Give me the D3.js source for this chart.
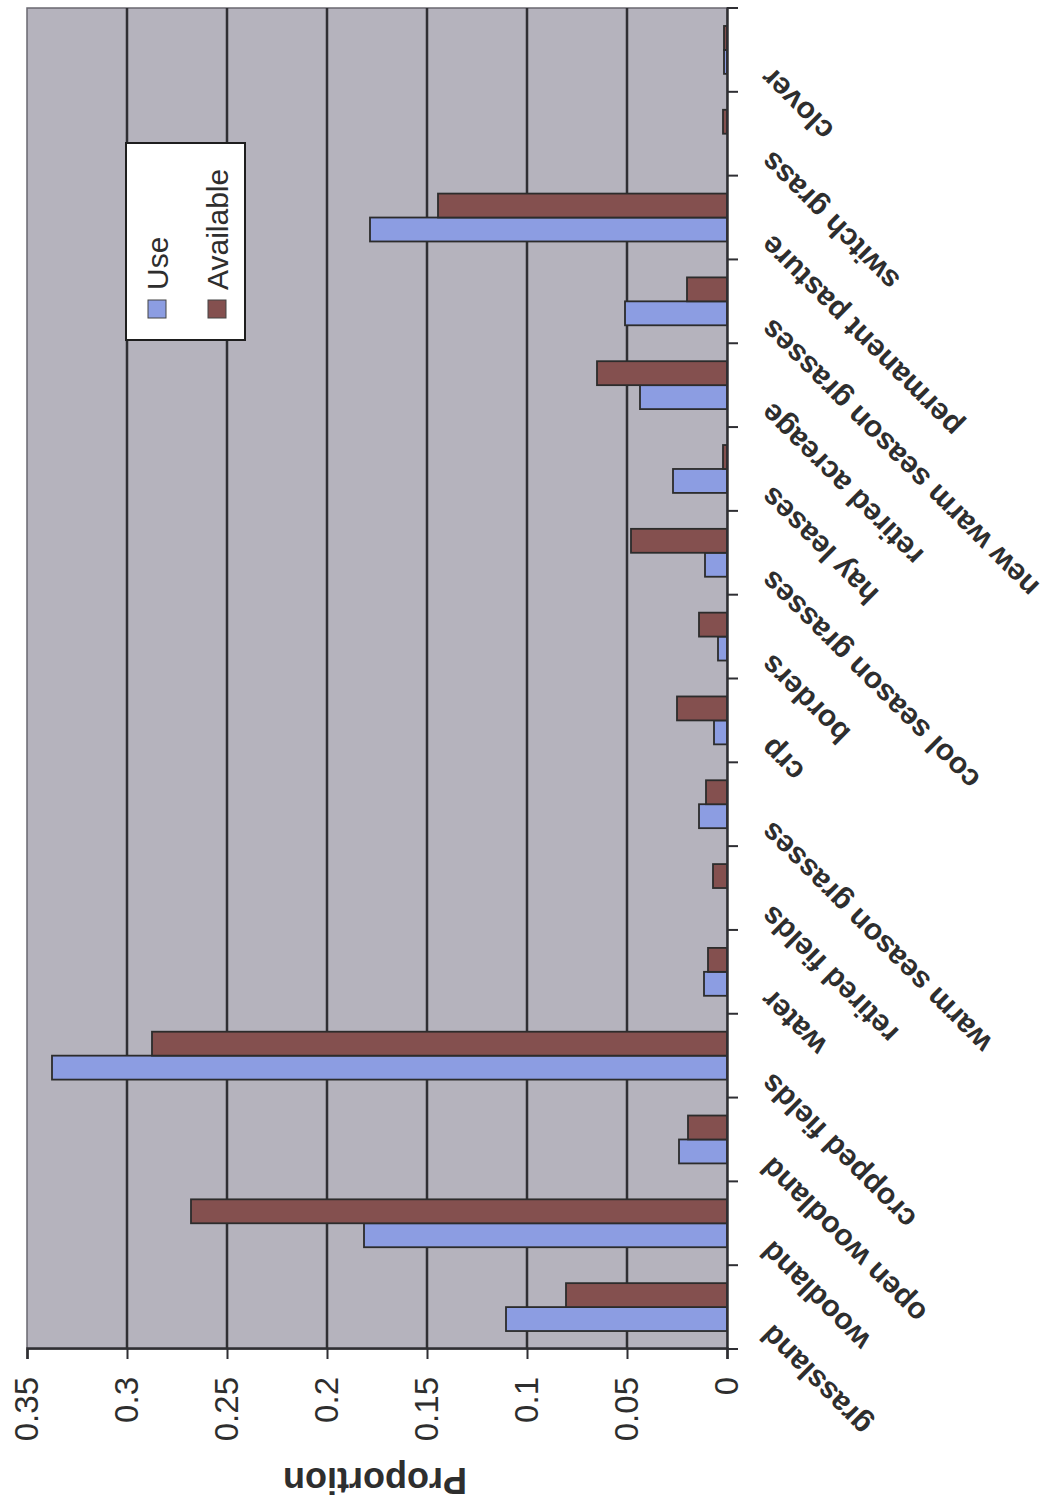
<!DOCTYPE html>
<html>
<head>
<meta charset="utf-8">
<script src="https://cdn.jsdelivr.net/npm/d3@7"></script>
<style>
  html, body { margin: 0; padding: 0; background: #fff; }
  svg { display: block; }
  text { font-family: "Liberation Sans", Arial, Helvetica, sans-serif; fill: #2e2e2e; }
</style>
</head>
<body>
<svg id="chart" width="1048" height="1512"></svg>
<script>
// Habitat categories (left to right along the category axis)
const categories = [
  "grassland", "woodland", "open woodland", "cropped fields", "water",
  "retired fields", "warm season grasses", "crp", "borders",
  "cool season grasses", "hay leases", "retired acreage",
  "new warm season grasses", "permanent pasture", "switch grass", "clover"
];
// Proportion of use
const useValues = [
  0.1105, 0.1815, 0.024, 0.3375, 0.0115,
  0.0, 0.014, 0.0065, 0.0045,
  0.011, 0.027, 0.0435,
  0.051, 0.1785, 0.0, 0.0015
];
// Proportion available
const availableValues = [
  0.0805, 0.268, 0.0195, 0.2875, 0.0095,
  0.007, 0.0105, 0.025, 0.014,
  0.048, 0.002, 0.065,
  0.02, 0.1445, 0.002, 0.0015
];
const seriesNames = ["Use", "Available"];
const seriesColors = ["#8c9de2", "#84504f"];
const valueTicks = [0, 0.05, 0.1, 0.15, 0.2, 0.25, 0.3, 0.35];
const valueTickLabels = ["0", "0.05", "0.1", "0.15", "0.2", "0.25", "0.3", "0.35"];
const yTitle = "Proportion";

const svg = d3.select("#chart");
const W = 1048, H = 1512;
svg.append("rect").attr("width", W).attr("height", H).attr("fill", "#fff");

// The chart is laid out as an ordinary column chart, then turned a quarter
// turn counter-clockwise onto the page.
const g = svg.append("g").attr("transform", `translate(0,${H}) rotate(-90)`);

const plot = { left: 163, right: 1504, top: 27, bottom: 727 };

const x0 = d3.scaleBand()
  .domain(categories)
  .range([plot.left, plot.right])
  .paddingInner(0).paddingOuter(0);

const x1 = d3.scaleBand()
  .domain(seriesNames)
  .range([0, x0.bandwidth()])
  .paddingInner(0).paddingOuter(0.75);

const y = d3.scaleLinear().domain([0, 0.35]).range([plot.bottom, plot.top]);

// Plot background
g.append("rect")
  .attr("x", plot.left).attr("y", plot.top)
  .attr("width", plot.right - plot.left).attr("height", plot.bottom - plot.top)
  .attr("fill", "#b5b3bd").attr("stroke", "#6a6870").attr("stroke-width", 1.5);

// Horizontal gridlines
g.append("g")
  .selectAll("line")
  .data(valueTicks.filter(v => v > 0 && v < 0.35))
  .join("line")
  .attr("x1", plot.left).attr("x2", plot.right)
  .attr("y1", d => y(d)).attr("y2", d => y(d))
  .attr("stroke", "#2f2f33").attr("stroke-width", 2.5);

// Bars
const rows = categories.map((c, i) => ({ cat: c, vals: [useValues[i], availableValues[i]] }));
const groups = g.append("g").selectAll("g")
  .data(rows)
  .join("g")
  .attr("transform", d => `translate(${x0(d.cat)},0)`);

groups.selectAll("rect")
  .data(d => d.vals.map((v, k) => ({ v, s: seriesNames[k], k })))
  .join("rect")
  .attr("x", d => x1(d.s))
  .attr("width", x1.bandwidth())
  .attr("y", d => y(d.v))
  .attr("height", d => y(0) - y(d.v))
  .attr("fill", d => seriesColors[d.k])
  .attr("stroke", d => d.v > 0 ? "#2c2c2c" : "none")
  .attr("stroke-width", 1.8);

// Value axis (left in layout)
const yAxis = d3.axisLeft(y)
  .tickValues(valueTicks)
  .tickFormat((d, i) => valueTickLabels[i])
  .tickSize(10).tickPadding(18);
const ya = g.append("g").attr("transform", `translate(${plot.left},0)`).call(yAxis);
ya.select(".domain").attr("stroke", "#2f2f33").attr("stroke-width", 2.5);
ya.selectAll(".tick line").attr("stroke", "#2f2f33").attr("stroke-width", 2);
ya.selectAll(".tick text")
  .attr("font-size", 33).attr("fill", "#333")
  .style("font-family", '"Liberation Sans", Arial, sans-serif');

// Category axis (bottom in layout)
const xAxis = d3.axisBottom(x0).tickSize(0).tickFormat("");
const xa = g.append("g").attr("transform", `translate(0,${plot.bottom})`).call(xAxis);
xa.select(".domain").attr("stroke", "#2f2f33").attr("stroke-width", 2.5);
// tick marks sit on the category boundaries
xa.append("g").selectAll("line")
  .data(d3.range(categories.length + 1))
  .join("line")
  .attr("x1", i => plot.left + i * x0.step())
  .attr("x2", i => plot.left + i * x0.step())
  .attr("y1", 0).attr("y2", 11)
  .attr("stroke", "#2f2f33").attr("stroke-width", 2);

// Slanted category labels
g.append("g").selectAll("text")
  .data(categories)
  .join("text")
  .attr("transform", d => `translate(${x0(d) + x0.bandwidth() / 2 - 16},${plot.bottom + 46}) rotate(-45)`)
  .attr("text-anchor", "end")
  .attr("font-size", 30)
  .attr("font-weight", "bold")
  .attr("fill", "#333")
  .text(d => d);

// Value axis title
g.append("text")
  .attr("transform", `translate(32,375) rotate(-90)`)
  .attr("text-anchor", "middle")
  .attr("dominant-baseline", "central")
  .attr("font-size", 36)
  .attr("font-weight", "bold")
  .attr("fill", "#333")
  .text(yTitle);

// Legend
const lg = g.append("g").attr("transform", "translate(1172,126)");
lg.append("rect").attr("width", 197).attr("height", 119)
  .attr("fill", "#fff").attr("stroke", "#1e1e1e").attr("stroke-width", 2);
const items = lg.selectAll("g.item")
  .data(seriesNames)
  .join("g")
  .attr("class", "item")
  .attr("transform", (d, i) => `translate(22,${31 + i * 60})`);
items.append("rect")
  .attr("x", 0).attr("y", -9).attr("width", 18).attr("height", 18)
  .attr("fill", (d, i) => seriesColors[i]).attr("stroke", "#444").attr("stroke-width", 1);
items.append("text")
  .attr("x", 28).attr("y", 0)
  .attr("dominant-baseline", "central")
  .attr("font-size", 30)
  .attr("fill", "#222")
  .text(d => d);
</script>
</body>
</html>
